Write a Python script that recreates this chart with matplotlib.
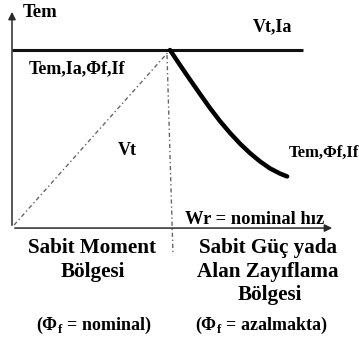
import matplotlib.pyplot as plt

plt.rcParams['font.family'] = 'Liberation Serif'
plt.rcParams['font.weight'] = 'bold'
plt.rcParams['mathtext.fontset'] = 'custom'
plt.rcParams['mathtext.rm'] = 'Liberation Serif:bold'
plt.rcParams['mathtext.bf'] = 'Liberation Serif:bold'

# speed normalised to nominal speed, torque normalised to rated torque
flat_speed = [0.0, 1.84]          # Vt, Ia stay at rated value
flat_level = [1.0, 1.0]
vt_speed = [0.013, 0.99]          # Vt rises linearly up to nominal speed
vt_level = [0.017, 0.99]
weak_speed = [1.0, 1.063, 1.127, 1.190, 1.253, 1.316, 1.380, 1.443, 1.506,
              1.570, 1.633, 1.696, 1.741]
weak_torque = [1.0, 0.916, 0.833, 0.753, 0.674, 0.601, 0.534, 0.474, 0.421,
               0.374, 0.335, 0.306, 0.290]
border_speed = [0.981, 1.019]     # boundary between the two regions
border_level = [0.972, -0.152]
axis_x_end = 2.044
axis_y_end = 1.23

curve_labels = ['Tem', 'Vt,Ia', 'Tem,Ia,Φf,If', 'Vt', 'Tem,Φf,If', 'Wr = nominal hız']
region_left = ['Sabit Moment', 'Bölgesi']
region_right = ['Sabit Güç yada', 'Alan Zayıflama', 'Bölgesi']
flux_notes = ['(Φ$_{\\mathrm{f}}$ = nominal)', '(Φ$_{\\mathrm{f}}$ = azalmakta)']

fig = plt.figure(figsize=(3.59, 3.42), dpi=100)
ax = fig.add_axes([0, 0, 1, 1])
ax.set_xlim(-0.0759, 2.196)
ax.set_ylim(-0.640, 1.281)
ax.axis('off')

# axes with arrows
axis_col = '#2a2a2a'
ax.annotate('', xy=(0, axis_y_end), xytext=(0, 0),
            arrowprops=dict(arrowstyle='-|>', lw=1.1, color=axis_col, mutation_scale=11))
ax.annotate('', xy=(axis_x_end, 0), xytext=(0, 0),
            arrowprops=dict(arrowstyle='-|>', lw=1.1, color=axis_col, mutation_scale=11))

ax.plot(flat_speed, flat_level, color='#111111', lw=2.2, solid_capstyle='butt')
ax.plot(weak_speed, weak_torque, color='black', lw=3.2, solid_capstyle='round',
        solid_joinstyle='round')
ax.plot(vt_speed, vt_level, color='#666666', lw=1.0, linestyle=(0, (3, 2, 1, 2)))
ax.plot(border_speed, border_level, color='#666666', lw=1.0, linestyle=(0, (3, 2, 1, 2)))

fs = 13
ax.text(0.07, 1.208, curve_labels[0], ha='left', va='center', fontsize=13.5)
ax.text(1.646, 1.129, curve_labels[1], ha='center', va='center', fontsize=fs)
ax.text(0.108, 0.893, curve_labels[2], ha='left', va='center', fontsize=fs)
ax.text(0.728, 0.438, curve_labels[3], ha='center', va='center', fontsize=fs)
ax.text(1.752, 0.421, curve_labels[4], ha='left', va='center', fontsize=12)
ax.text(1.095, 0.05, curve_labels[5], ha='left', va='center', fontsize=13.3)

fs2 = 15.2
ax.text(0.507, -0.112, region_left[0], ha='center', va='center', fontsize=fs2)
ax.text(0.510, -0.247, region_left[1], ha='center', va='center', fontsize=fs2)
ax.text(1.623, -0.112, region_right[0], ha='center', va='center', fontsize=fs2)
ax.text(1.620, -0.247, region_right[1], ha='center', va='center', fontsize=fs2)
ax.text(1.630, -0.376, region_right[2], ha='center', va='center', fontsize=fs2)

ax.text(0.519, -0.545, flux_notes[0], ha='center', va='center', fontsize=13)
ax.text(1.576, -0.545, flux_notes[1], ha='center', va='center', fontsize=13)

fig.savefig('out.png', dpi=100)
